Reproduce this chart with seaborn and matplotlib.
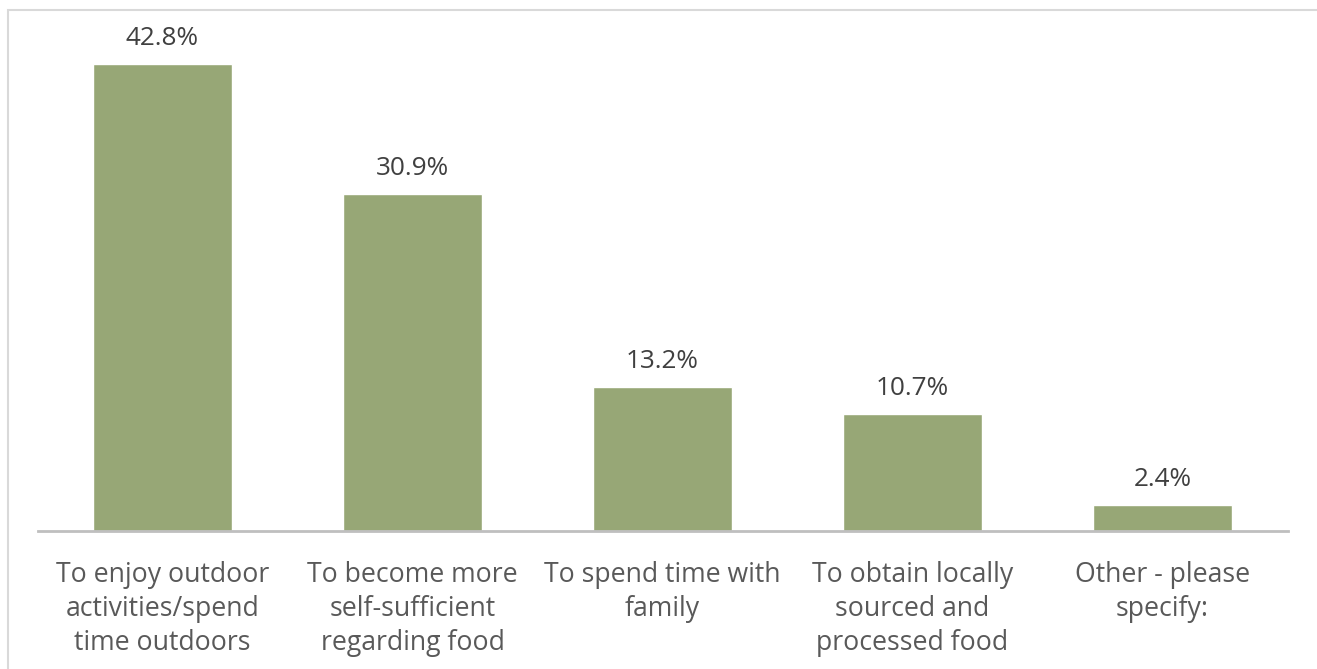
import matplotlib
matplotlib.use("Agg")
import matplotlib.pyplot as plt
import seaborn as sns
import pandas as pd
from matplotlib.patches import Rectangle

categories = [
    "To enjoy outdoor\nactivities/spend\ntime outdoors",
    "To become more\nself-sufficient\nregarding food",
    "To spend time with\nfamily",
    "To obtain locally\nsourced and\nprocessed food",
    "Other - please\nspecify:",
]
values = [42.8, 30.9, 13.2, 10.7, 2.4]

sns.set_theme(style="white")
plt.rcParams["font.family"] = ["Open Sans", "DejaVu Sans"]

W, H = 1317, 669
fig = plt.figure(figsize=(W / 100, H / 100), dpi=100)
ax = fig.add_axes([37.5 / W, (H - 531) / H, 1250 / W, 512.8 / H])

df = pd.DataFrame({"reason": categories, "share": values})
sns.barplot(data=df, x="reason", y="share", color="#97A776", saturation=1,
            width=0.556, ax=ax)

ax.set_ylim(0, 47)
ax.set_xlim(-0.5, len(categories) - 0.5)
ax.set_xlabel("")
ax.set_ylabel("")
ax.set_yticks([])
for side in ("top", "left", "right"):
    ax.spines[side].set_visible(False)
ax.spines["bottom"].set_color("#BFBFBF")
ax.spines["bottom"].set_linewidth(2)

ax.bar_label(ax.containers[0], labels=[f"{v:.1f}%" for v in values],
             padding=9.5, fontsize=18.8, color="#404040")
ax.tick_params(axis="x", length=0, pad=21.5, labelsize=19.2, labelcolor="#595959")
for lbl in ax.get_xticklabels():
    lbl.set_linespacing(1.3)

# thin frame around the chart area
fig.patches.append(Rectangle((7.5 / W, -0.1), 1.2, 1.1 - 10.5 / H,
                             transform=fig.transFigure, fill=False,
                             edgecolor="#D9D9D9", linewidth=1.5))

fig.savefig("out.png", dpi=100)
